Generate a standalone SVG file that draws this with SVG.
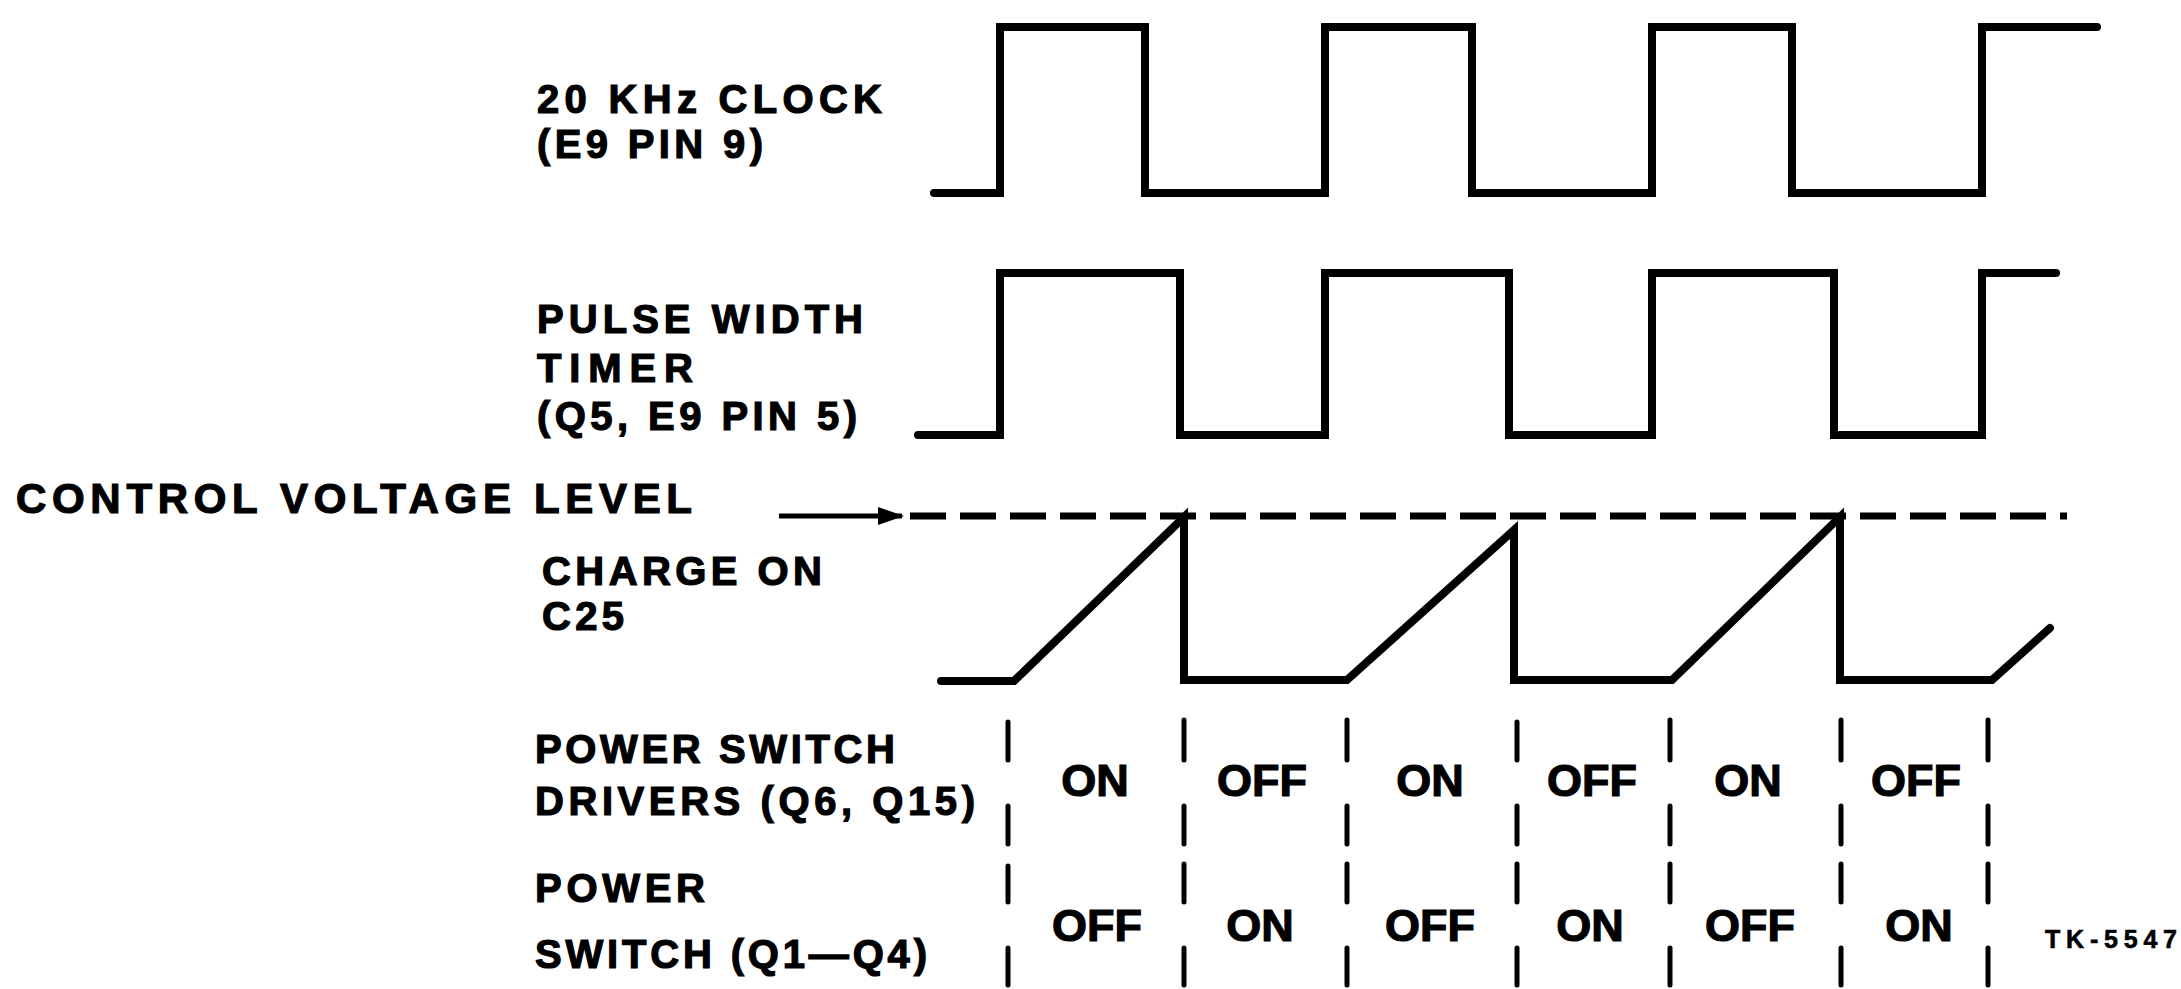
<svg xmlns="http://www.w3.org/2000/svg" width="2181" height="989" viewBox="0 0 2181 989">
<style>
.t{font-family:"Liberation Sans",Arial,sans-serif;font-weight:bold;font-size:40px;fill:#000;stroke:#000;stroke-width:1.2}
.s{font-size:45px}
.f{font-size:25px;stroke-width:0.6}
.w{fill:none;stroke:#000;stroke-width:8;stroke-linejoin:miter;stroke-linecap:round}
.d{fill:none;stroke:#000;stroke-width:7;stroke-dasharray:36 14}
.k{stroke:#000;stroke-width:5;stroke-linecap:round}
</style>
<defs>
<marker id="ah" markerWidth="26" markerHeight="20" refX="24" refY="10" orient="auto" markerUnits="userSpaceOnUse" viewBox="0 0 26 20">
<path d="M0,1 L26,10 L0,19 z" fill="#000"/>
</marker>
</defs>
<rect width="2181" height="989" fill="#fff"/>

<g id="label-clock">
<text class="t" x="537" y="113" textLength="345" lengthAdjust="spacing">20 KHz CLOCK</text>
<text class="t" x="537" y="158" textLength="226" lengthAdjust="spacing">(E9 PIN 9)</text>
</g>
<g id="label-pwt">
<text class="t" x="537" y="333" textLength="326" lengthAdjust="spacing">PULSE WIDTH</text>
<text class="t" x="537" y="382" textLength="156" lengthAdjust="spacing">TIMER</text>
<text class="t" x="537" y="430" textLength="320" lengthAdjust="spacing">(Q5, E9 PIN 5)</text>
</g>
<g id="label-cvl">
<text class="t" x="16" y="513" textLength="676" lengthAdjust="spacing" style="font-size:42px">CONTROL VOLTAGE LEVEL</text>
</g>
<g id="label-c25">
<text class="t" x="542" y="585" textLength="280" lengthAdjust="spacing">CHARGE ON</text>
<text class="t" x="542" y="630" textLength="82" lengthAdjust="spacing">C25</text>
</g>
<g id="label-psd">
<text class="t" x="535" y="763" textLength="360" lengthAdjust="spacing">POWER SWITCH</text>
<text class="t" x="535" y="815" textLength="440" lengthAdjust="spacing">DRIVERS (Q6, Q15)</text>
</g>
<g id="label-ps">
<text class="t" x="535" y="902" textLength="170" lengthAdjust="spacing">POWER</text>
<text class="t" x="535" y="968" textLength="392" lengthAdjust="spacing">SWITCH (Q1—Q4)</text>
</g>

<g id="wave-clock">
<path class="w" d="M934,193 H1000 V27 H1145 V193 H1325 V27 H1472 V193 H1652 V27 H1792 V193 H1982 V27 H2097"/>
</g>
<g id="wave-pwt">
<path class="w" d="M918,435 H1000 V273 H1180 V435 H1325 V273 H1509 V435 H1652 V273 H1834 V435 H1982 V273 H2056"/>
</g>
<g id="wave-c25">
<path class="w" d="M941,681 H1014 L1184,517 V680 H1347 L1514,530 V680 H1672 L1840,517 V680 H1992 L2050,628"/>
</g>

<g id="connectors">
<line x1="779" y1="516" x2="902" y2="516" stroke="#000" stroke-width="5" marker-end="url(#ah)"/>
<line class="d" x1="910" y1="516" x2="2067" y2="516"/>
</g>

<g id="ticks">
<path class="k" d="M1008,722 V760 M1008,806 V844 M1008,866 V902 M1008,948 V985
M1184,720 V760 M1184,806 V844 M1184,864 V902 M1184,948 V985
M1347,720 V760 M1347,806 V844 M1347,864 V902 M1347,948 V985
M1517,722 V760 M1517,806 V844 M1517,864 V902 M1517,948 V985
M1670,720 V760 M1670,806 V844 M1670,864 V902 M1670,948 V985
M1841,720 V760 M1841,806 V844 M1841,864 V902 M1841,948 V985
M1988,720 V760 M1988,806 V844 M1988,864 V902 M1988,948 V985"/>
</g>

<g id="row-drivers">
<text class="t s" x="1095" y="796" text-anchor="middle">ON</text>
<text class="t s" x="1262" y="796" text-anchor="middle">OFF</text>
<text class="t s" x="1430" y="796" text-anchor="middle">ON</text>
<text class="t s" x="1592" y="796" text-anchor="middle">OFF</text>
<text class="t s" x="1748" y="796" text-anchor="middle">ON</text>
<text class="t s" x="1916" y="796" text-anchor="middle">OFF</text>
</g>
<g id="row-switch">
<text class="t s" x="1097" y="941" text-anchor="middle">OFF</text>
<text class="t s" x="1260" y="941" text-anchor="middle">ON</text>
<text class="t s" x="1430" y="941" text-anchor="middle">OFF</text>
<text class="t s" x="1590" y="941" text-anchor="middle">ON</text>
<text class="t s" x="1750" y="941" text-anchor="middle">OFF</text>
<text class="t s" x="1919" y="941" text-anchor="middle">ON</text>
</g>
<g id="figure-id">
<text class="t f" x="2045" y="948" textLength="132" lengthAdjust="spacing">TK-5547</text>
</g>
</svg>
